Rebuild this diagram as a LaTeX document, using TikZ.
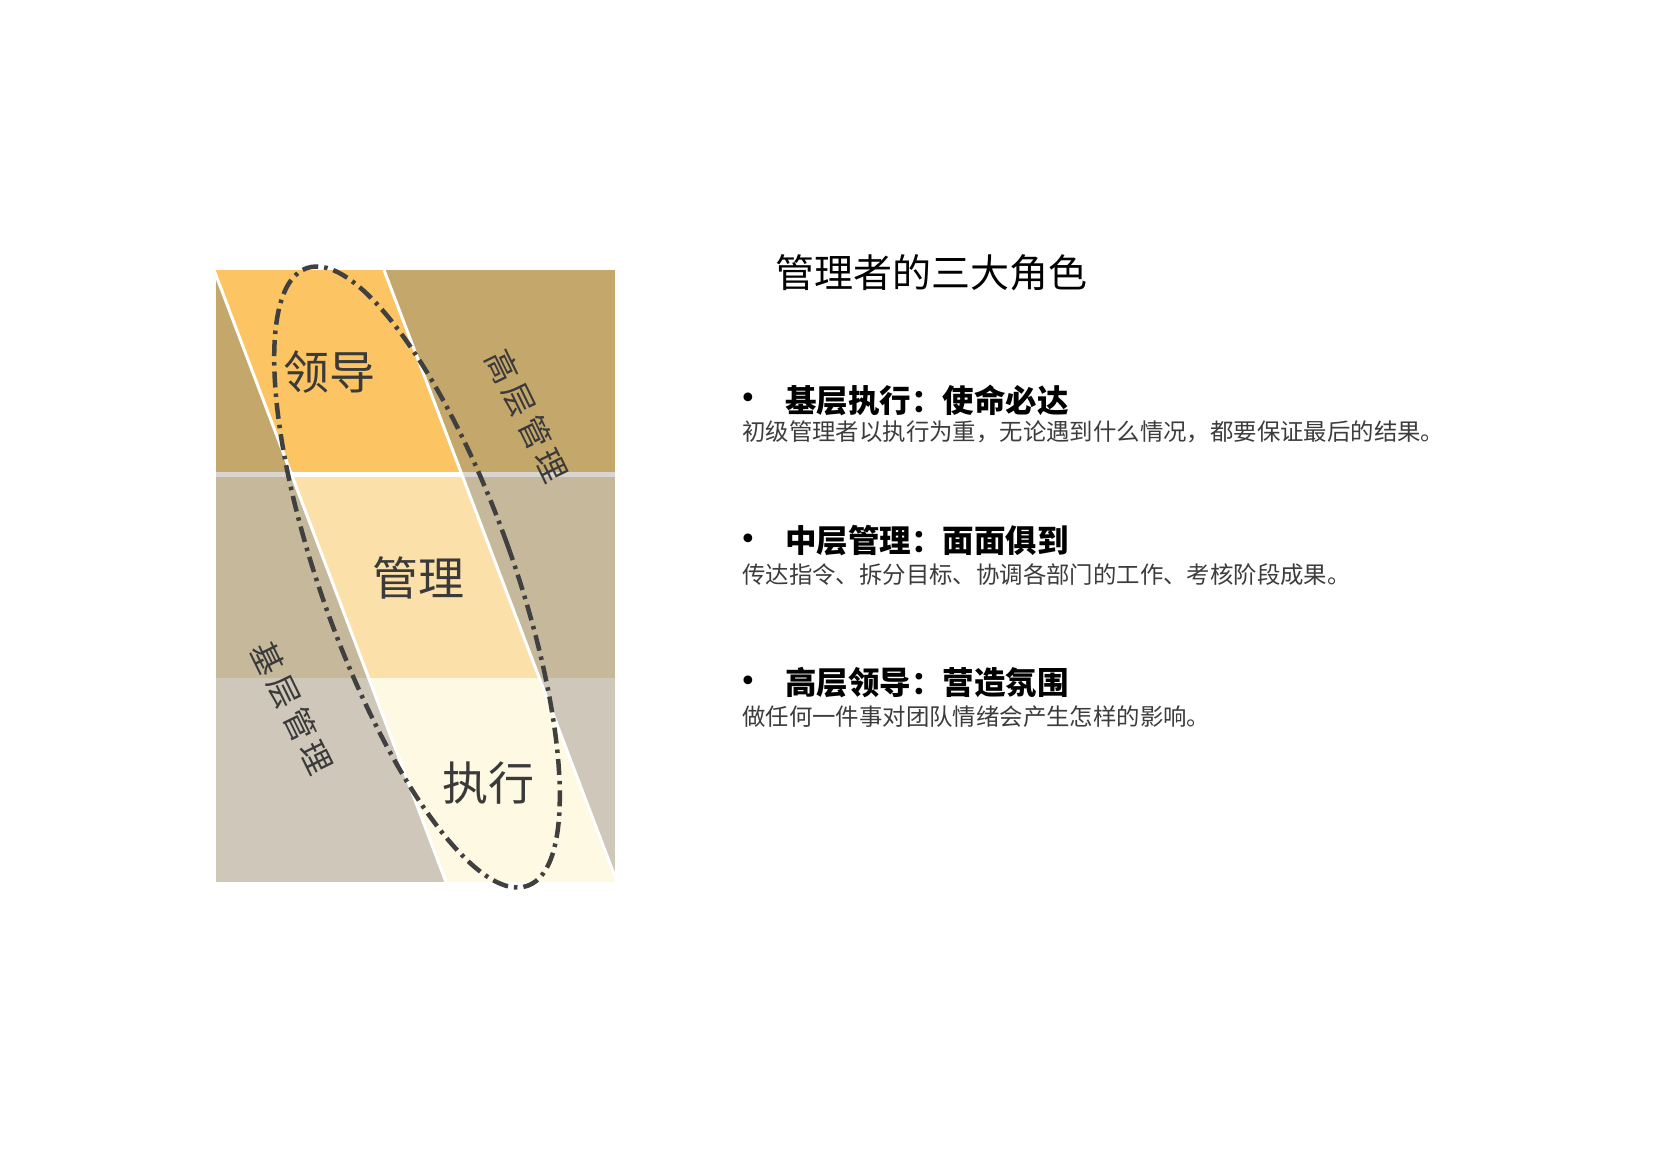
\documentclass[tikz,border=0pt]{standalone}
\usepackage{fontspec}
\newfontfamily\cjk{Noto Sans CJK SC}
\newfontfamily\dejavu{DejaVu Sans}
\definecolor{topout}{HTML}{C4A86B}
\definecolor{topband}{HTML}{FCC462}
\definecolor{midout}{HTML}{C6B99B}
\definecolor{midband}{HTML}{FBE1A9}
\definecolor{botout}{HTML}{CFC8BA}
\definecolor{botband}{HTML}{FEF9E2}
\definecolor{sepgray}{HTML}{D9D6D1}
\definecolor{dashcol}{HTML}{404040}
\definecolor{labelcol}{HTML}{3A3A3A}
\definecolor{bodycol}{HTML}{3C3C3C}
\tikzset{
  biglabel/.style={inner sep=0pt, text=labelcol, font=\cjk\fontsize{46}{50}\selectfont},
  sidelabel/.style={inner sep=0pt, text=labelcol, font=\cjk\fontsize{32}{36}\selectfont},
  headtext/.style={inner sep=0pt, anchor=west, text=black, font=\cjk\bfseries\fontsize{31.5}{34}\selectfont},
  bodytext/.style={inner sep=0pt, anchor=west, text=bodycol, font=\cjk\fontsize{23.4}{26}\selectfont},
  bulletdot/.style={inner sep=0pt, text=black, font=\dejavu\fontsize{30}{32}\selectfont},
  ring/.style={draw=dashcol, line width=4.5pt, dash pattern=on 16pt off 6pt on 3.5pt off 6pt}
}
\begin{document}
\begin{tikzpicture}[x=1pt,y=-1pt]
\useasboundingbox (0,0) rectangle (1653,1168);
\fill[white] (0,0) rectangle (1653,1168);
% rows
\fill[topout] (216,270) rectangle (615,474);
\fill[midout] (216,474) rectangle (615,678);
\fill[botout] (216,678) rectangle (615,882);
% band
\begin{scope}
  \clip (214,270) -- (384,270) -- (617,882) -- (446,882) -- cycle;
  \fill[topband] (216,270) rectangle (615,474);
  \fill[midband] (216,474) rectangle (615,678);
  \fill[botband] (216,678) rectangle (615,882);
\end{scope}
% separators
\draw[sepgray, line width=5pt] (216,474) -- (615,474);
\begin{scope}
  \clip (216,270) rectangle (615,882);
  \draw[white, line width=5pt] (291,474) -- (461,474);
  \draw[white, line width=3pt] (214,270) -- (446,882);
  \draw[white, line width=3pt] (384,270) -- (617,882);
\end{scope}
% labels
\node[biglabel] (lead) at (329,372) {领导};
\node[biglabel] (mgmt) at (418,578) {管理};
\node[biglabel] (exec) at (488,783) {执行};
\node[sidelabel, rotate=-64] (top) at (527,416) {高\kern5pt 层\kern5pt 管\kern5pt 理};
\node[sidelabel, rotate=-64] (base) at (292,708) {基\kern5pt 层\kern5pt 管\kern5pt 理};
% dashed ring
\draw[ring, rotate around={19.7:(417,577)}] (417,577) ellipse [x radius=96pt, y radius=328pt];
% right side text
\node[inner sep=0pt, anchor=west, text=black, font=\cjk\fontsize{39}{42}\selectfont] (title) at (775,273) {管理者的三大角色};
\node[bulletdot] (b1) at (748,401) {•};
\node[headtext] (h1) at (785,400) {基层执行：使命必达};
\node[bodytext] (t1) at (742,432) {初级管理者以执行为重，无论遇到什么情况，都要保证最后的结果。};
\node[bulletdot] (b2) at (748,542) {•};
\node[headtext] (h2) at (785,541) {中层管理：面面俱到};
\node[bodytext] (t2) at (742,575) {传达指令、拆分目标、协调各部门的工作、考核阶段成果。};
\node[bulletdot] (b3) at (748,684) {•};
\node[headtext] (h3) at (785,683) {高层领导：营造氛围};
\node[bodytext] (t3) at (742,717) {做任何一件事对团队情绪会产生怎样的影响。};
\end{tikzpicture}
\end{document}
